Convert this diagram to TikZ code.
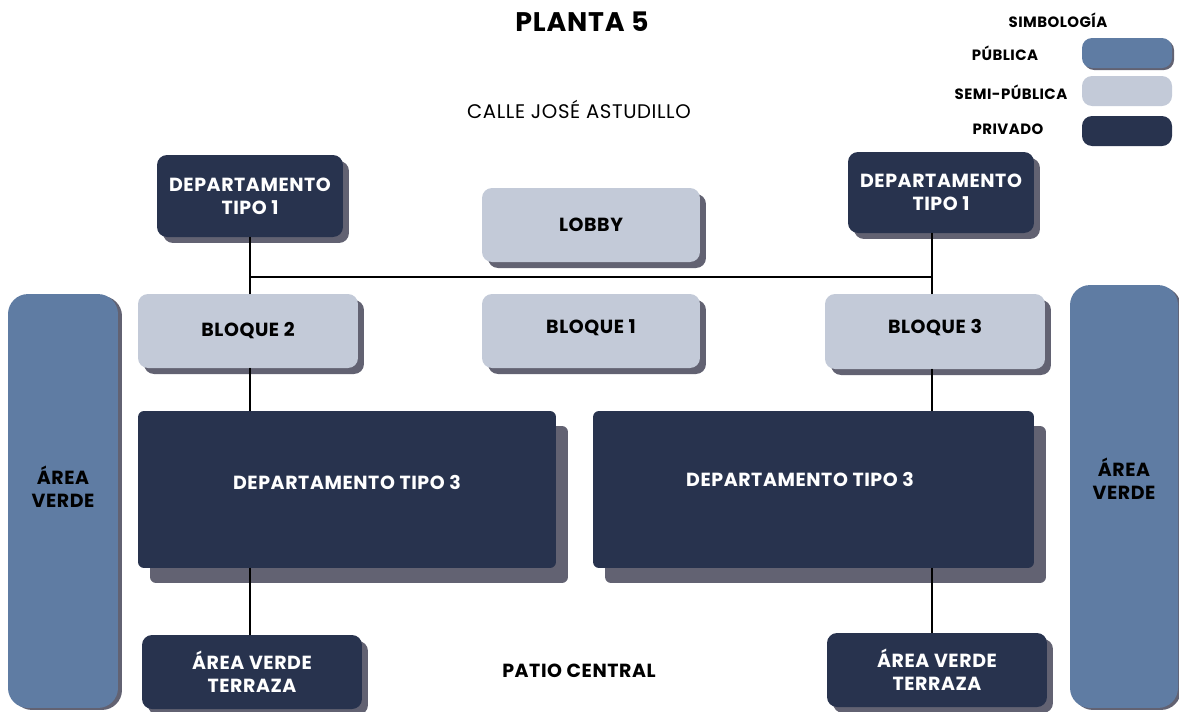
\documentclass[tikz,border=0pt]{standalone}
\usepackage{fontspec}
\setmainfont{Poppins}
\newfontfamily\rotulo{Poppins}[LetterSpace=3]
\usetikzlibrary{shadows}

\definecolor{azulpub}{RGB}{95,124,163}
\definecolor{grissemi}{RGB}{195,202,216}
\definecolor{azulpriv}{RGB}{40,51,78}
\definecolor{sombra}{RGB}{98,98,114}

\tikzset{
  caja/.style={rectangle, rounded corners=0.2cm, inner sep=0pt, align=center,
    font=\rotulo\bfseries\fontsize{10.8}{13.3}\selectfont},
  publica/.style={caja, fill=azulpub, text=black},
  semi/.style={caja, fill=grissemi, text=black},
  privado/.style={caja, fill=azulpriv, text=white},
  conSombra/.style={drop shadow={shadow xshift=0.12cm, shadow yshift=-0.12cm, fill=sombra, opacity=1}},
  sombraGrande/.style={drop shadow={shadow xshift=0.24cm, shadow yshift=-0.3cm, fill=sombra, opacity=1}},
  texto/.style={inner sep=0pt, align=center, font=\rotulo\bfseries\fontsize{10.8}{13.3}\selectfont},
  leyenda/.style={inner sep=0pt, font=\rotulo\bfseries\fontsize{8.5}{10}\selectfont},
  linea/.style={line width=0.6pt, black},
}

\begin{document}
\begin{tikzpicture}[x=0.02cm, y=-0.02cm, line cap=round, line join=round]
  \useasboundingbox (0,0) rectangle (1179,711);

  % Title and street
  \node[texto, font=\rotulo\bfseries\fontsize{15.3}{17}\selectfont] (titulo) at (582,22) {PLANTA 5};
  \node[inner sep=0pt, font=\rotulo\fontsize{11.2}{13}\selectfont] (calle) at (579,109) {CALLE JOSÉ ASTUDILLO};

  % Legend
  \node[leyenda] (simbologia) at (1058,20) {SIMBOLOGÍA};
  \node[leyenda] (lpub) at (1005,53) {PÚBLICA};
  \node[leyenda] (lsemi) at (1011,92) {SEMI-PÚBLICA};
  \node[leyenda] (lpriv) at (1008,129) {PRIVADO};
  \node[publica, minimum width=1.8cm, minimum height=0.6cm,
    drop shadow={shadow xshift=0.04cm, shadow yshift=-0.04cm, fill=sombra, opacity=1}] (spub) at (1127,53) {};
  \node[semi, minimum width=1.8cm, minimum height=0.6cm] (ssemi) at (1127,91) {};
  \node[privado, minimum width=1.8cm, minimum height=0.6cm] (spriv) at (1127,131) {};

  % Upper row
  \node[privado, conSombra, minimum width=3.72cm, minimum height=1.64cm] (dunoL) at (250,196) {DEPARTAMENTO\\TIPO 1};
  \node[privado, conSombra, minimum width=3.72cm, minimum height=1.62cm] (dunoR) at (941,192.5) {DEPARTAMENTO\\TIPO 1};
  \node[semi, conSombra, minimum width=4.36cm, minimum height=1.48cm] (lobby) at (591,225) {LOBBY};

  % Blocks
  \node[semi, conSombra, minimum width=4.4cm, minimum height=1.48cm] (bdos) at (248,331) {BLOQUE 2};
  \node[semi, conSombra, minimum width=4.36cm, minimum height=1.48cm,
    label={[texto, yshift=0.06cm]center:BLOQUE 1}] (buno) at (591,331) {};
  \node[semi, conSombra, minimum width=4.4cm, minimum height=1.5cm,
    label={[texto, yshift=0.07cm]center:BLOQUE 3}] (btres) at (935,331.5) {};

  % Type 3 apartments
  \node[privado, sombraGrande, rounded corners=0.12cm, minimum width=8.36cm, minimum height=3.14cm,
    label={[texto, white, yshift=0.15cm]center:DEPARTAMENTO TIPO 3}] (dtresL) at (347,489.5) {};
  \node[privado, sombraGrande, rounded corners=0.12cm, minimum width=8.82cm, minimum height=3.14cm,
    label={[texto, white, xshift=-0.27cm, yshift=0.21cm]center:DEPARTAMENTO TIPO 3}] (dtresR) at (813.5,489.5) {};

  % Terraces and central patio
  \node[privado, conSombra, minimum width=4.4cm, minimum height=1.48cm] (terrL) at (252,672) {ÁREA VERDE\\TERRAZA};
  \node[privado, conSombra, minimum width=4.4cm, minimum height=1.48cm] (terrR) at (937,670) {ÁREA VERDE\\TERRAZA};
  \node[texto] (patio) at (579,671) {PATIO CENTRAL};

  % Green areas at the sides
  \node[publica, rounded corners=0.4cm, minimum width=2.2cm, minimum height=8.28cm,
    drop shadow={shadow xshift=0.08cm, shadow yshift=-0.04cm, fill=sombra, opacity=1},
    label={[texto, yshift=0.28cm]center:ÁREA\\VERDE}] (verdeL) at (63,501) {};
  \node[publica, rounded corners=0.4cm, minimum width=2.16cm, minimum height=8.46cm,
    drop shadow={shadow xshift=0.06cm, shadow yshift=-0.04cm, fill=sombra, opacity=1},
    label={[texto, yshift=0.35cm]center:ÁREA\\VERDE}] (verdeR) at (1124,496.5) {};

  % Connectors
  \coordinate (ejeL) at (250,277);
  \coordinate (ejeR) at (932,277);
  \draw[linea] (ejeL) -- (ejeR);
  \draw[linea] (dunoL.south) -- (bdos.north -| dunoL.south);
  \draw[linea] (ejeR |- dunoR.south) -- (ejeR |- btres.north);
  \draw[linea] (ejeL |- bdos.south) -- (ejeL |- dtresL.north);
  \draw[linea] (ejeR |- btres.south) -- (ejeR |- dtresR.north);
  \draw[linea] (ejeL |- dtresL.south) -- (ejeL |- terrL.north);
  \draw[linea] (ejeR |- dtresR.south) -- (ejeR |- terrR.north);
\end{tikzpicture}
\end{document}
